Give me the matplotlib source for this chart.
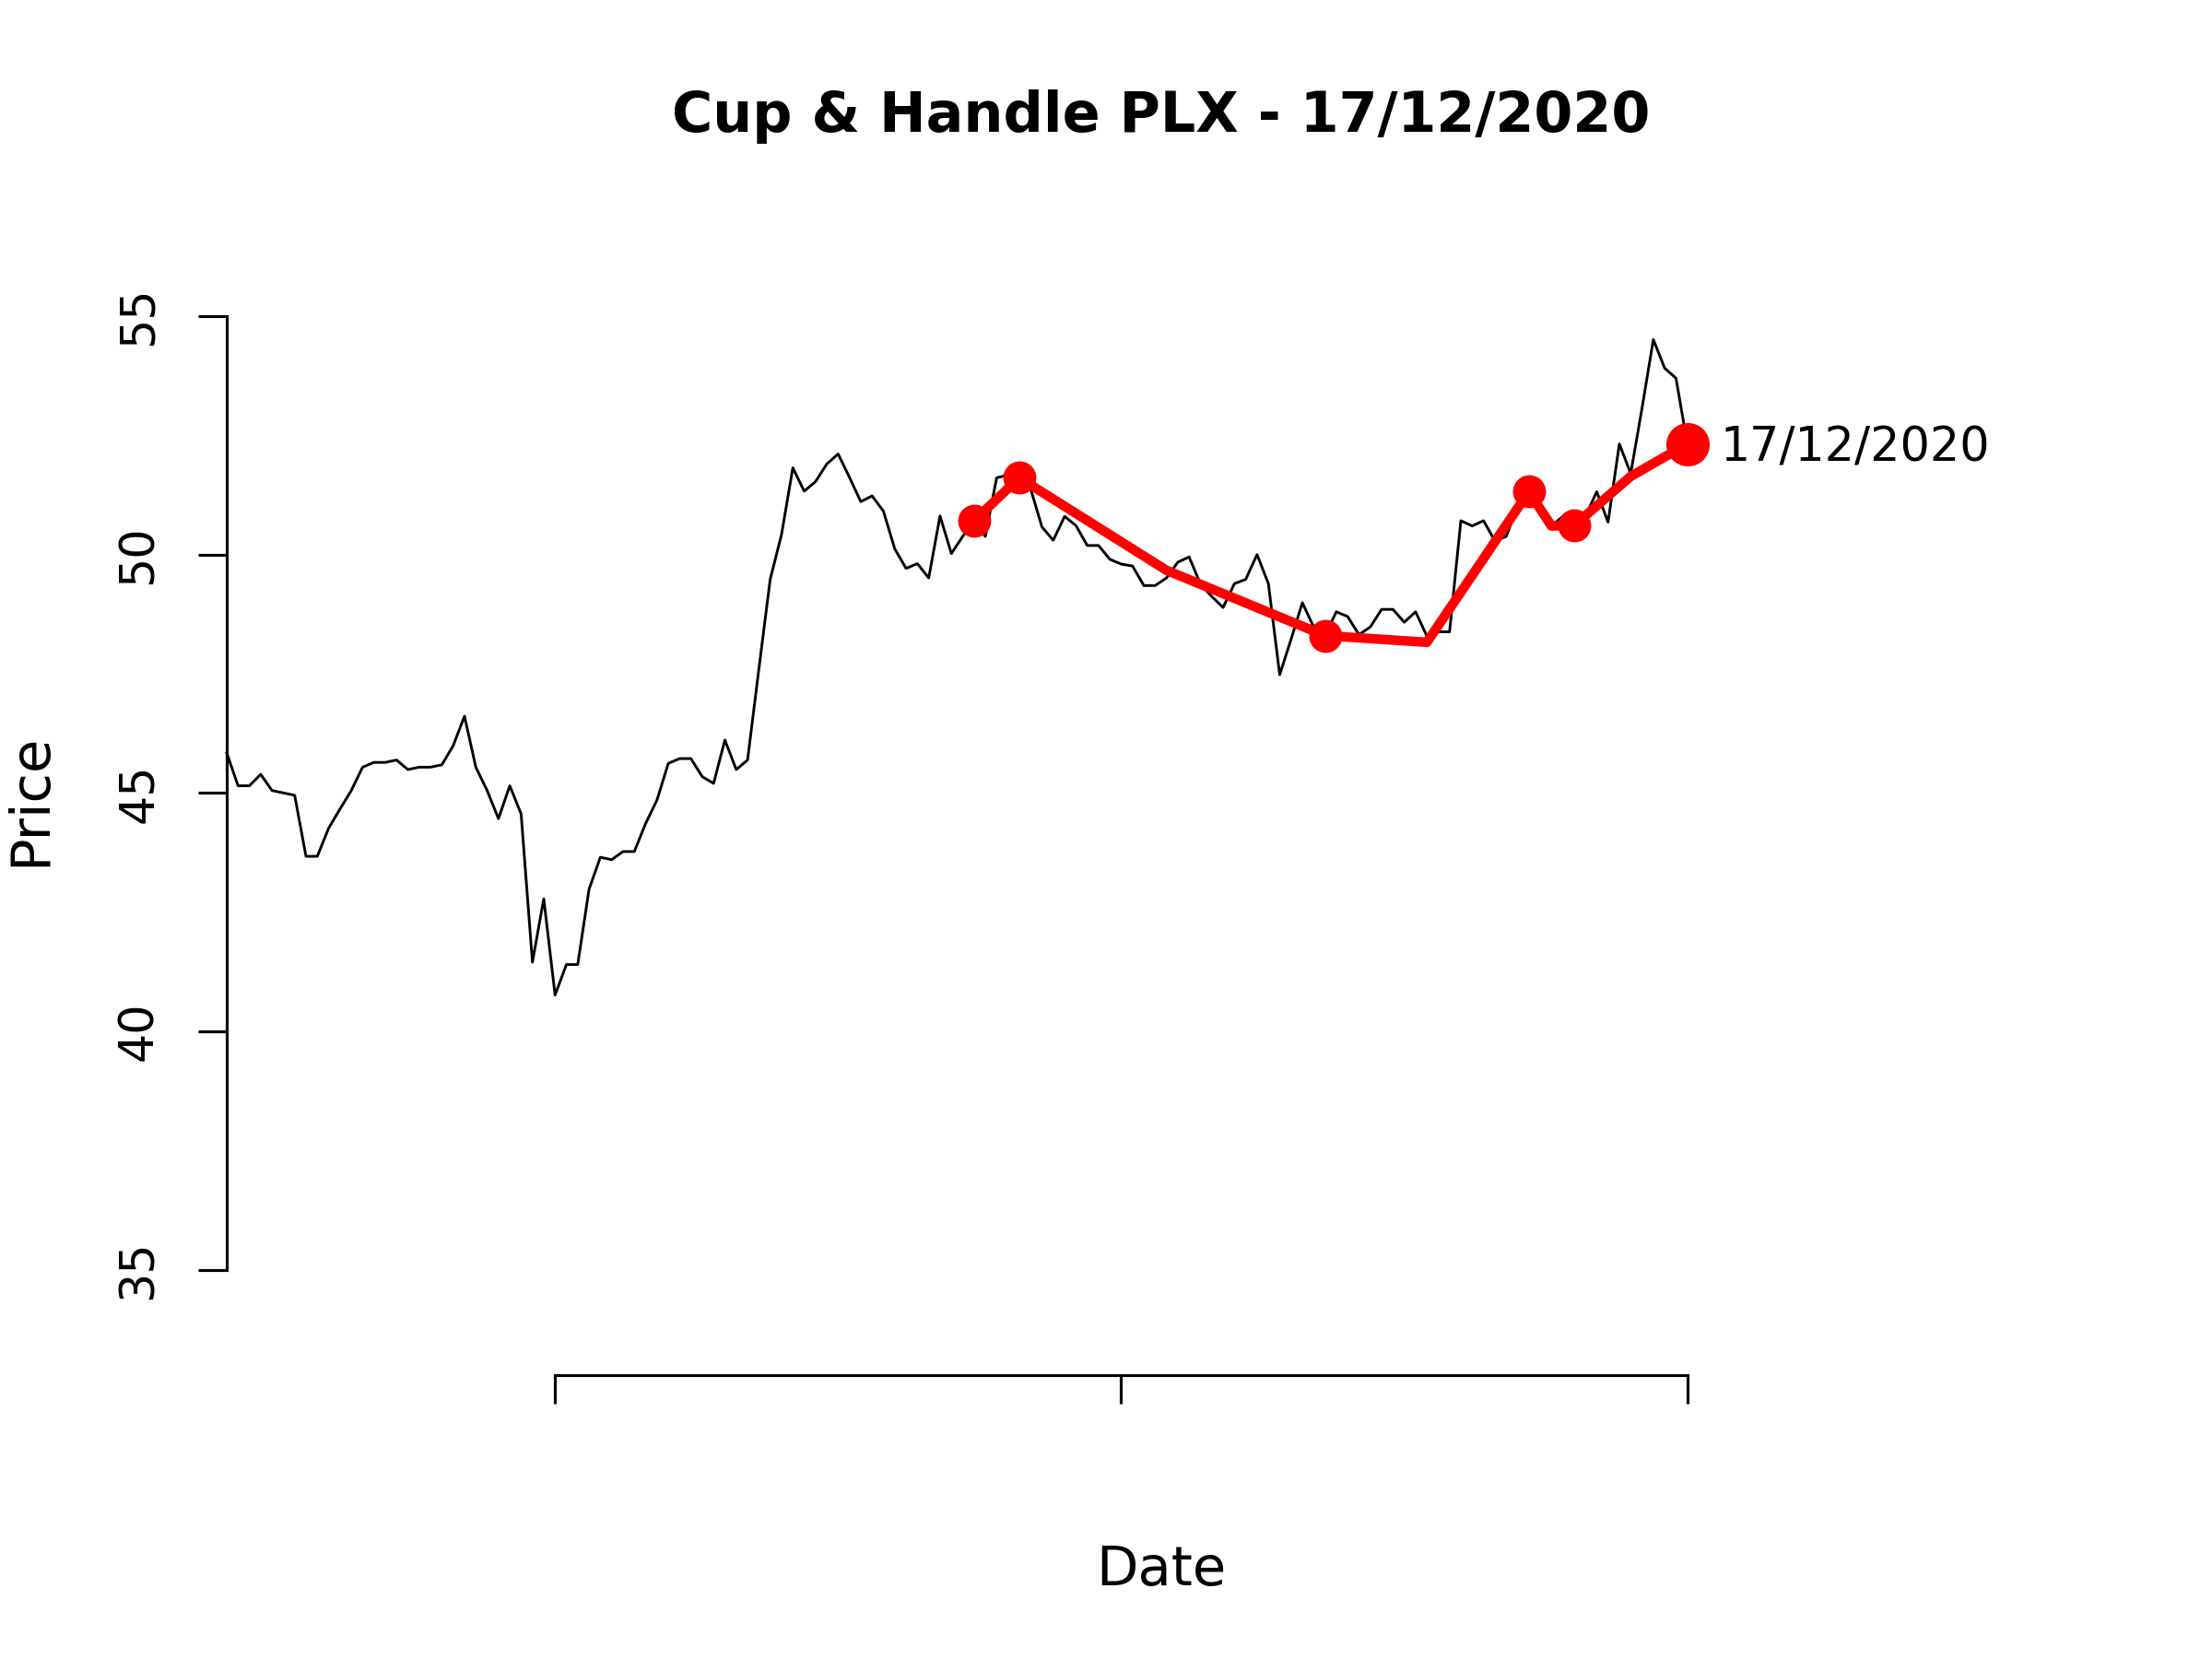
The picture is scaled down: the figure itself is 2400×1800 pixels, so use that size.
import numpy as np
import matplotlib
matplotlib.use('Agg')
import matplotlib.pyplot as plt

# closing prices, one per trading day
price = [45.84, 45.15, 45.15, 45.39, 45.05, 45.00, 44.95, 43.67, 43.67, 44.26,
         44.66, 45.05, 45.54, 45.64, 45.64, 45.69, 45.49, 45.54, 45.54, 45.59,
         45.99, 46.61, 45.54, 45.05, 44.46, 45.15, 44.56, 41.45, 42.78, 40.76,
         41.40, 41.40, 42.98, 43.65, 43.60, 43.77, 43.77, 44.36, 44.85, 45.62,
         45.72, 45.72, 45.34, 45.20, 46.11, 45.49, 45.69, 47.60, 49.48, 50.42,
         51.82, 51.33, 51.53, 51.90, 52.11, 51.62, 51.11, 51.23, 50.91, 50.12,
         49.71, 49.81, 49.51, 50.81, 50.02, 50.38, 50.71, 50.38, 51.61, 51.67,
         51.61, 51.38, 50.58, 50.30, 50.80, 50.61, 50.19, 50.19, 49.90, 49.80,
         49.76, 49.35, 49.35, 49.51, 49.84, 49.95, 49.38, 49.12, 48.89, 49.39,
         49.48, 50.00, 49.39, 47.48, 48.22, 48.99, 48.48, 48.30, 48.80, 48.70,
         48.32, 48.48, 48.85, 48.85, 48.58, 48.80, 48.29, 48.38, 48.38, 50.71,
         50.60, 50.71, 50.29, 50.38, 51.00, 51.32, 51.00, 50.60, 50.80, 50.61,
         50.80, 51.32, 50.68, 52.32, 51.70, 53.07, 54.51, 53.91, 53.70, 52.32]

# pattern outline (index, price)
patternIdx = [66, 70, 83, 97, 106, 115, 117, 119, 124, 129]
patternVal = [50.71, 51.61, 49.67, 48.30, 48.16, 51.32, 50.60, 50.61, 51.64, 52.32]
pointIdx = [66, 70, 97, 115, 119]
pointVal = [50.71, 51.61, 48.30, 51.32, 50.61]
lastIdx = 129
lastVal = 52.32
lastLabel = '17/12/2020'

yTicks = [35, 40, 45, 50, 55]
xTicks = [29, 79, 129]
title = 'Cup & Handle PLX - 17/12/2020'

plt.rcParams['font.family'] = ['DejaVu Sans']

fig = plt.figure(figsize=(8, 6), dpi=300)
# axes placed so that 35..55 and index 0..129 land where the reference has them
yBottom = 35 - (0.2347 - 0.1711) / ((0.8094 - 0.2347) / 20)
ax = fig.add_axes([0.1025, 0.1711, 0.6603, 0.8094 - 0.1711])
ax.set_xlim(0, len(price) - 1)
ax.set_ylim(yBottom, 55)

x = np.arange(len(price))
ax.plot(x, price, color='black', lw=0.7, clip_on=False)
ax.plot(patternIdx, patternVal, color='#ff0000', lw=2.5, clip_on=False,
        solid_joinstyle='round', zorder=3)
ax.plot(pointIdx, pointVal, 'o', color='#ff0000', ms=8.6, mew=0, clip_on=False, zorder=4)
ax.plot([lastIdx], [lastVal], 'o', color='#ff0000', ms=11.3, mew=0, clip_on=False, zorder=4)
ax.annotate(lastLabel, (lastIdx, lastVal), xytext=(8.5, -1.1), textcoords='offset points',
            va='center', ha='left', fontsize=12.2)

for s in ['top', 'right']:
    ax.spines[s].set_visible(False)
ax.spines['left'].set_bounds(35, 55)
ax.spines['bottom'].set_bounds(xTicks[0], xTicks[-1])
ax.spines['left'].set_linewidth(0.75)
ax.spines['bottom'].set_linewidth(0.75)

ax.set_yticks(yTicks)
ax.set_yticklabels([str(v) for v in yTicks], rotation=90, va='center', fontsize=12.2)
ax.set_xticks(xTicks)
ax.set_xticklabels([])
ax.tick_params(axis='both', length=7.4, width=0.75, color='black')
ax.tick_params(axis='y', pad=9.4)

fig.text(0.525, 0.9295, title, ha='center', va='center', fontsize=14.5, fontweight='bold')
fig.text(0.525, 0.0538, 'Date', ha='center', va='center', fontsize=14.2)
fig.text(0.0135, 0.518, 'Price', ha='center', va='center', rotation=90, fontsize=14.2)

fig.savefig('out.png', dpi=300)
